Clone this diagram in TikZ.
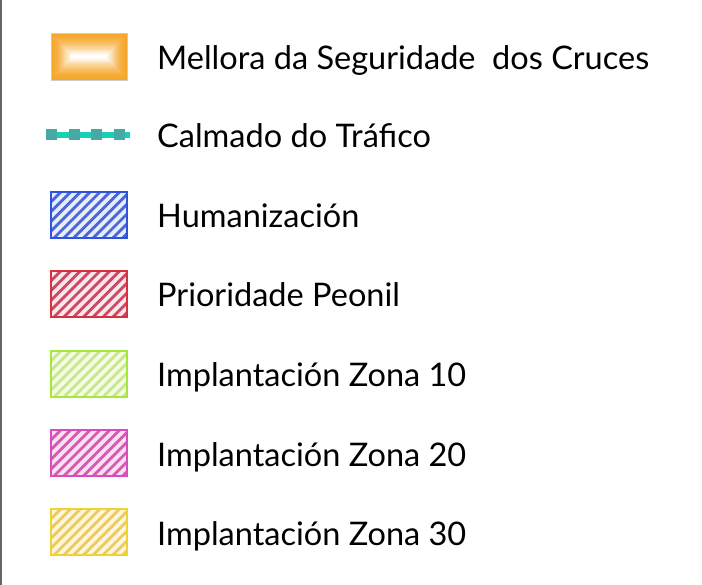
\documentclass[tikz,border=0pt]{standalone}
\usepackage{fontspec}
\setmainfont{Lato}
\definecolor{orangeC}{HTML}{F4A62A}
\definecolor{tealL}{HTML}{1ACFB5}
\definecolor{tealS}{HTML}{47A9A3}
\definecolor{blueB}{HTML}{2F52E0}\definecolor{blueS}{HTML}{4A66D8}\definecolor{blueF}{HTML}{E8EDFA}
\definecolor{redB}{HTML}{D8303C}\definecolor{redS}{HTML}{C94A62}\definecolor{redF}{HTML}{FBE8EC}
\definecolor{greenB}{HTML}{A6E83A}\definecolor{greenS}{HTML}{C8E890}\definecolor{greenF}{HTML}{F6FBE4}
\definecolor{magB}{HTML}{D84CC0}\definecolor{magS}{HTML}{D45AB2}\definecolor{magF}{HTML}{FBE2F3}
\definecolor{yelB}{HTML}{F0D232}\definecolor{yelS}{HTML}{EEC860}\definecolor{yelF}{HTML}{FDF8DC}
\tikzset{
  lbl/.style={anchor=base west, inner sep=0pt, font=\fontsize{32.5}{36}\selectfont},
}
\newcommand{\hatchbox}[5]{% y-center, border, stripe, fill, name
  \begin{scope}
    \clip (51,#1-23) rectangle (127,#1+23);
    \fill[#4] (51,#1-23) rectangle (127,#1+23);
    \foreach \k in {0,...,13}{
      \draw[#3, line width=2.8pt] (51+\k*9.8-46,#1+23) -- (51+\k*9.8,#1-23);
    }
  \end{scope}
  \draw[#2, line width=1.6pt] (51,#1-23) rectangle node (#5) {} (127,#1+23);
}
\begin{document}
\begin{tikzpicture}[x=1pt,y=-1pt]
\useasboundingbox (0,0) rectangle (702,585);
\fill[white] (0,0) rectangle (702,585);
\fill[black!60] (0,0) rectangle (2,585);
% orange box
\foreach \i in {0,...,18}{
  \pgfmathsetmacro{\mix}{100*(1-(\i/18)^1.6)}
  \fill[orangeC!\mix!white] (51+\i*1.1,33+\i*1.2) rectangle (127-\i*1.1,80-\i*1.2);
}
\draw[black!20, line width=0.6pt] (51,33) rectangle node (b1) {} (127,80);
\node[lbl] (t1) at (157,70) {Mellora da Seguridade\ \ dos Cruces};
% teal
\draw[tealL, line width=6pt] (46,135) -- (130,135);
\foreach \xx in {46,68.5,91,114}{
  \fill[tealS] (\xx,129.5) rectangle (\xx+11,140.5);
}
\node[lbl] (t2) at (157,148) {Calmado do Tráfico};
\hatchbox{215}{blueB}{blueS}{blueF}{b3}
\node[lbl] (t3) at (157,228) {Humanización};
\hatchbox{294}{redB}{redS}{redF}{b4}
\node[lbl] (t4) at (157,307) {Prioridade Peonil};
\hatchbox{374}{greenB}{greenS}{greenF}{b5}
\node[lbl] (t5) at (157,387) {Implantación Zona 10};
\hatchbox{453}{magB}{magS}{magF}{b6}
\node[lbl] (t6) at (157,466) {Implantación Zona 20};
\hatchbox{532}{yelB}{yelS}{yelF}{b7}
\node[lbl] (t7) at (157,545) {Implantación Zona 30};
\end{tikzpicture}
\end{document}
